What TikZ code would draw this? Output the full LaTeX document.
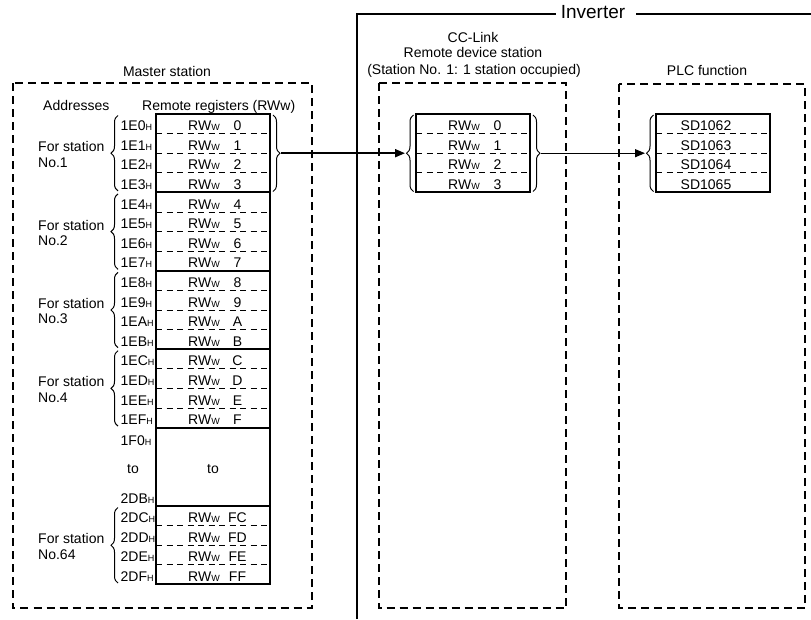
\documentclass[tikz,border=0pt]{standalone}
\usepackage{fontspec}
\setmainfont{Liberation Sans}
\usetikzlibrary{arrows.meta,decorations.pathreplacing}
\newcommand\myrw{RW{\fontsize{9}{9}\selectfont W}}
\newcommand\myh{{\fontsize{9}{9}\selectfont H}}
\begin{document}
\begin{tikzpicture}[x=1pt,y=-1pt,
  every node/.style={inner sep=0pt,font=\fontsize{14}{16}\selectfont},
  frame/.style={line width=2pt,dash pattern=on 8pt off 5pt},
  tbl/.style={line width=2pt},
  sep/.style={line width=0.8pt,dash pattern=on 6pt off 4.5pt},
  brc/.style={line width=1pt,decorate,decoration={brace,amplitude=7pt}},
  arr/.style={line width=1.9pt,-{Triangle[length=10pt,width=8pt]}},
  arrb/.style={line width=1.3pt,-{Triangle[length=10pt,width=8pt]}},
]
\useasboundingbox (0,0) rectangle (811,619);
% Inverter frame
\node[font=\fontsize{19}{20}\selectfont,anchor=base] (inv) at (593,18.5) {Inverter};
\coordinate (invbot) at (357,619);
\coordinate (invcorner) at (357,14);
\coordinate (invright) at (811,14);
\draw[line width=1.3pt] (invbot) -- (invcorner) -- ([xshift=-5pt]inv.west |- invcorner);
\draw[line width=1.3pt] ([xshift=11pt]inv.east |- invcorner) -- (invright);
% dashed station boxes
\draw[frame] (12.5,83) rectangle (311.5,608);
\draw[frame] (378.5,83) rectangle (566,608);
\draw[frame] (619,84) rectangle (805,608);
% headers
\node[anchor=base] (hms) at (167,76) {Master station};
\node[anchor=base west] (hadr) at (43,110) {Addresses};
\node[anchor=base west] (hrr) at (142,110) {Remote registers (RWw)};
\node[anchor=base] (hcc) at (473,42) {CC-Link};
\node[anchor=base] (hrd) at (473,57) {Remote device station};
\node[anchor=base] (hst) at (474,74) {(Station No. 1: 1 station occupied)};
\node[anchor=base] (hplc) at (707,75) {PLC function};
% master table rows 0..F
\foreach \a [count=\i from 0] in {0,1,2,3,4,5,6,7,8,9,A,B,C,D,E,F}{
  \pgfmathsetmacro\yb{114+19.6*\i+16.6}
  \pgfmathsetmacro\ys{114+19.6*(\i+1)}
  \pgfmathtruncatemacro\m{mod(\i,4)}
  \node[anchor=base west] (ma\i) at (120.5,\yb) {1E\a\myh};
  \node[anchor=base west] (mw\i) at (188,\yb) {\myrw};
  \node[anchor=base] (mn\i) at (237.5,\yb) {\a};
  \ifnum\m<3 \draw[sep] (156,\ys) -- (270,\ys); \fi
}
% station 64 rows
\foreach \a [count=\i from 0] in {C,D,E,F}{
  \pgfmathsetmacro\yb{506+19.6*\i+16.6}
  \pgfmathsetmacro\ys{506+19.6*(\i+1)}
  \node[anchor=base west] (mb\i) at (120.5,\yb) {2D\a\myh};
  \node[anchor=base west] (mx\i) at (188,\yb) {\myrw};
  \node[anchor=base] (my\i) at (237.5,\yb) {F\a};
  \ifnum\i<3 \draw[sep] (156,\ys) -- (270,\ys); \fi
}
% to block
\node[anchor=base west] (a1f0) at (120.5,445) {1F0\myh};
\node[anchor=base] (ato) at (133,473.5) {to};
\node[anchor=base west] (a2db) at (120.5,503) {2DB\myh};
\node[anchor=base] (tto) at (213,473.5) {to};
% master table borders
\draw[tbl] (156,114) rectangle (270,584.4);
\foreach \y in {192.4,270.8,349.2,427.6,506}{\draw[tbl] (156,\y) -- (270,\y);}
% station braces + labels
\foreach \k/\n in {0/1,1/2,2/3,3/4}{
  \pgfmathsetmacro\yt{114+78.4*\k}
  \pgfmathsetmacro\ybt{\yt+78.4}
  \pgfmathsetmacro\yc{\yt+39.2}
  \draw[brc] (118,\ybt-1.5) -- (118,\yt+1.5);
  \node[anchor=base west] (fs\k) at (38,\yc-1.5) {For station};
  \node[anchor=base west] (fn\k) at (38,\yc+13.8) {No.\n};
}
\draw[brc] (118,583) -- (118,507.5);
\node[anchor=base west] (fs64) at (38,543.7) {For station};
\node[anchor=base west] (fn64) at (38,559.5) {No.64};
% master right brace
\draw[brc] (273,115) -- (273,191.5);
\coordinate (mtip) at (281,153.2);
% remote table
\draw[tbl] (416,114) rectangle (530,192.4);
\foreach \a [count=\i from 0] in {0,1,2,3}{
  \pgfmathsetmacro\yb{114+19.6*\i+16.6}
  \pgfmathsetmacro\ys{114+19.6*(\i+1)}
  \node[anchor=base west] (rw\i) at (448,\yb) {\myrw};
  \node[anchor=base] (rn\i) at (497.5,\yb) {\a};
  \ifnum\i<3 \draw[sep] (416,\ys) -- (530,\ys); \fi
}
\draw[brc] (413.5,191.5) -- (413.5,115);
\coordinate (rltip) at (405,153.2);
\draw[brc] (533,115) -- (533,191.5);
\coordinate (rrtip) at (541,153.2);
% PLC table
\draw[tbl] (656,114) rectangle (770,192.4);
\foreach \a [count=\i from 0] in {1062,1063,1064,1065}{
  \pgfmathsetmacro\yb{114+19.6*\i+16.6}
  \pgfmathsetmacro\ys{114+19.6*(\i+1)}
  \node[anchor=base] (pn\i) at (706,\yb) {SD\a};
  \ifnum\i<3 \draw[sep] (656,\ys) -- (770,\ys); \fi
}
\draw[brc] (653.5,191.5) -- (653.5,115);
\coordinate (pltip) at (645,153.2);
% arrows
\draw[arr] (mtip) -- (rltip);
\draw[arrb] (rrtip) -- (pltip);
\end{tikzpicture}
\end{document}
